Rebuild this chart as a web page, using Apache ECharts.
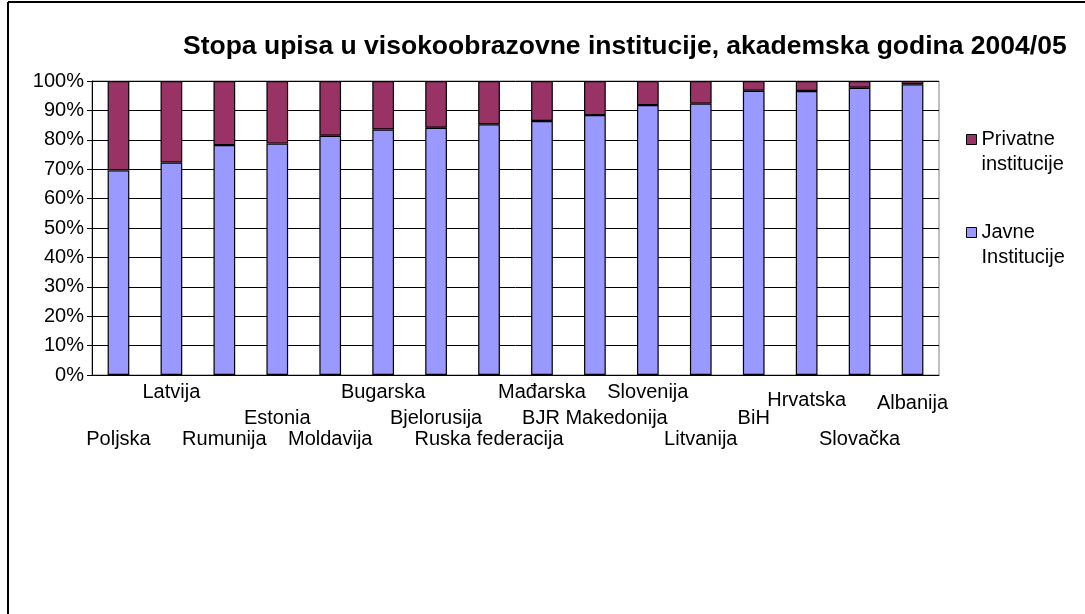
<!DOCTYPE html>
<html>
<head>
<meta charset="utf-8">
<script src="https://cdn.jsdelivr.net/npm/echarts@6/dist/echarts.min.js"></script>
<style>
  html, body { margin: 0; padding: 0; background: #fff; }
  #chart { width: 1085px; height: 614px; }
</style>
</head>
<body>
<div id="chart"></div>
<script>
// data
var countries = ['Poljska', 'Latvija', 'Rumunija', 'Estonia', 'Moldavija', 'Bugarska',
  'Bjelorusija', 'Ruska federacija', 'Mađarska', 'BJR Makedonija', 'Slovenija',
  'Litvanija', 'BiH', 'Hrvatska', 'Slovačka', 'Albanija'];
var javne = [69.6, 72.3, 78.2, 78.7, 81.4, 83.5, 84.1, 85.3, 86.4, 88.4, 91.8, 92.3, 96.7, 96.6, 97.7, 98.9];
var privatne = javne.map(function (v) { return +(100 - v).toFixed(1); });

// staggered label rows like the original (a = top row)
var labelRow = ['c', 'a', 'c', 'b', 'c', 'a', 'b', 'c', 'a', 'b', 'a', 'c', 'b', 'h', 'c', 'g'];

var font = 'Liberation Sans, Arial, sans-serif';
var myChart = echarts.init(document.getElementById('chart'));

function row(pad) {
  return { fontSize: 20, fontFamily: font, color: '#000', padding: [pad, 0, 0, 0] };
}

var option = {
  backgroundColor: '#fff',
  animation: false,
  textStyle: { fontFamily: font },
  title: {
    text: 'Stopa upisa u visokoobrazovne institucije, akademska godina 2004/05',
    left: 178,
    top: 28,
    textStyle: { fontFamily: font, fontSize: 26.5, fontWeight: 'bold', color: '#000' }
  },
  legend: {
    orient: 'vertical',
    left: 961,
    top: 97,
    itemWidth: 10,
    itemHeight: 10,
    itemGap: 18,
    icon: 'rect',
    data: ['Privatne institucije', 'Javne Institucije'],
    // blank first line so the square sits next to the first text line
    formatter: function (name) { return ' \n' + name.replace(' ', '\n'); },
    itemStyle: { borderColor: '#000', borderWidth: 1 },
    textStyle: { fontFamily: font, fontSize: 20, color: '#000', lineHeight: 25 }
  },
  grid: {
    left: 92,
    right: 146,
    top: 81,
    bottom: 239,
    show: true,
    borderColor: '#808080',
    borderWidth: 1
  },
  xAxis: {
    type: 'category',
    data: countries,
    axisLine: { lineStyle: { color: '#000' } },
    axisTick: { length: 6, lineStyle: { color: '#000' } },
    axisLabel: {
      interval: 0,
      margin: 7,
      color: '#000',
      fontSize: 20,
      formatter: function (v, i) { return '{' + labelRow[i] + '|' + v + '}'; },
      rich: { a: row(0), h: row(8), g: row(11), b: row(26), c: row(47) }
    }
  },
  yAxis: {
    type: 'value',
    min: 0,
    max: 100,
    interval: 10,
    axisLine: { show: true, lineStyle: { color: '#000' } },
    axisTick: { show: true, length: 5, lineStyle: { color: '#000' } },
    axisLabel: { formatter: '{value}%', color: '#000', fontSize: 20, margin: 8 },
    splitLine: { lineStyle: { color: '#000', width: 1 } }
  },
  series: [
    {
      name: 'Javne Institucije',
      type: 'bar',
      stack: 'total',
      data: javne,
      barWidth: '41%',
      itemStyle: { color: '#9999ff', borderColor: '#000', borderWidth: 1.2 }
    },
    {
      name: 'Privatne institucije',
      type: 'bar',
      stack: 'total',
      data: privatne,
      barWidth: '41%',
      itemStyle: { color: '#993366', borderColor: '#000', borderWidth: 1.2 }
    }
  ],
  graphic: [
    { type: 'line', shape: { x1: 8, y1: 2, x2: 1085, y2: 2 }, style: { stroke: '#000', lineWidth: 2 } },
    { type: 'line', shape: { x1: 8, y1: 2, x2: 8, y2: 614 }, style: { stroke: '#000', lineWidth: 2 } }
  ]
};

myChart.setOption(option);
</script>
</body>
</html>
